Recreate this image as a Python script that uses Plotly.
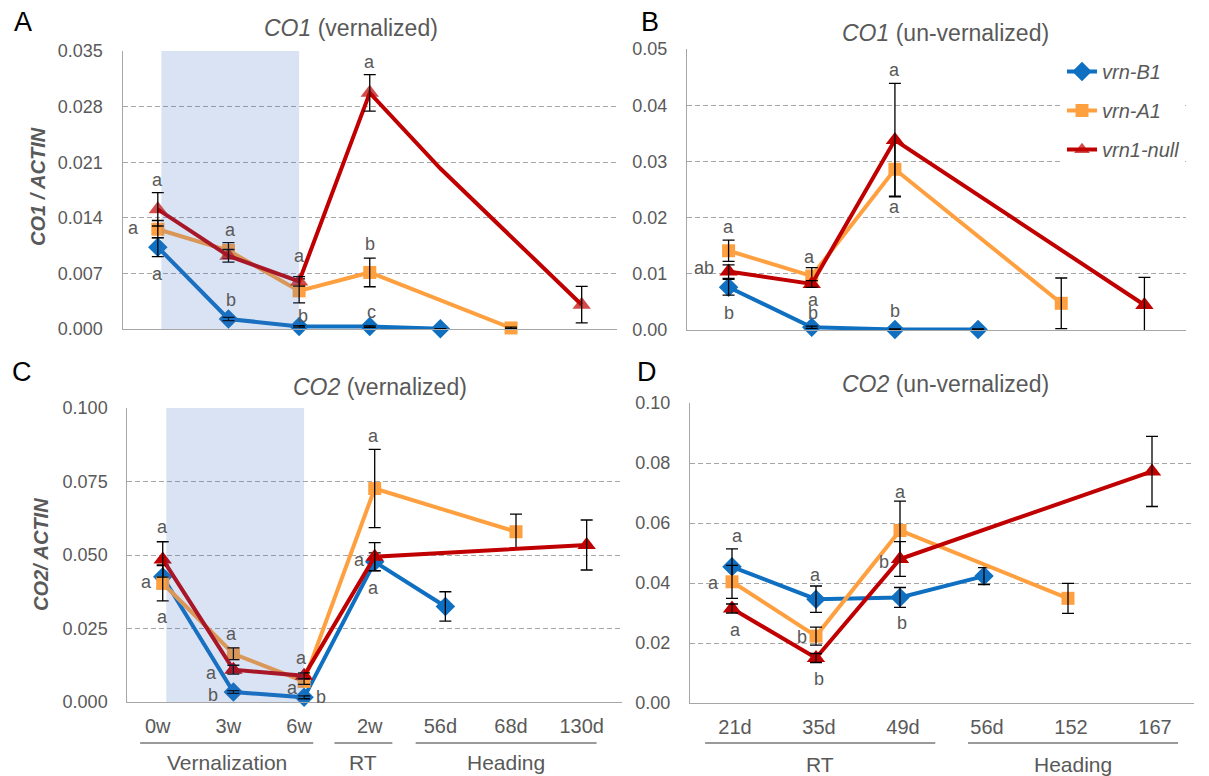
import plotly.graph_objects as go

# ---------------- data ----------------
cats_ver = ["0w", "3w", "6w", "2w", "56d", "68d", "130d"]
cats_unv = ["21d", "35d", "49d", "56d", "152", "167"]
series_names = ["vrn-B1", "vrn-A1", "vrn1-null"]

# A: CO1 (vernalized)
co1_ver_b1 = [0.0103, 0.00126, 0.00033, 0.0003, 0.00004, None, None]
co1_ver_b1_err = [0.0012, 0.0002, 0.0001, 0.0001, 0.0, None, None]
co1_ver_a1 = [0.01256, 0.00988, 0.0048, 0.00712, None, 0.00013, None]
co1_ver_a1_err = [0.0011, 0.0010, 0.0015, 0.0018, None, 0.0001, None]
co1_ver_null = [0.01507, 0.00921, 0.00599, 0.02973, 0.0202, None, 0.00306]
co1_ver_null_err = [0.0021, 0.0008, 0.0006, 0.0023, None, None, 0.0023]
co1_ver_null_marker = [1, 1, 1, 1, 0, 1, 1]

# B: CO1 (un-vernalized)
co1_unv_b1 = [0.0076, 0.0005, 0.0001, 0.0001, None, None]
co1_unv_b1_err = [0.0014, 0.0002, 0.0001, 0.0001, None, None]
co1_unv_a1 = [0.0141, 0.0096, 0.0286, None, 0.00475, None]
co1_unv_a1_err = [0.0019, 0.0015, 0.0048, None, 0.0045, None]
co1_unv_null = [0.0104, 0.0082, 0.0338, None, None, 0.00445]
co1_unv_null_err = [0.0012, 0.0006, 0.0101, None, None, 0.0049]

# C: CO2 (vernalized)
co2_ver_b1 = [0.0426, 0.0034, 0.0016, 0.0477, 0.0325, None, None]
co2_ver_b1_err = [0.004, 0.0005, 0.0005, 0.003, 0.005, None, None]
co2_ver_a1 = [0.0404, 0.0164, 0.0070, 0.0726, None, 0.0579, None]
co2_ver_a1_err = [0.006, 0.002, 0.001, 0.0133, None, 0.006, None]
co2_ver_null = [0.0485, 0.0110, 0.0089, 0.0494, None, None, 0.0534]
co2_ver_null_err = [0.006, 0.0015, 0.001, 0.0048, None, None, 0.0085]

# D: CO2 (un-vernalized)
co2_unv_b1 = [0.0454, 0.0346, 0.0352, 0.0423, None, None]
co2_unv_b1_err = [0.006, 0.0044, 0.0033, 0.0028, None, None]
co2_unv_a1 = [0.0404, 0.0223, 0.0575, None, 0.0349, None]
co2_unv_a1_err = [0.0055, 0.003, 0.0098, None, 0.005, None]
co2_unv_null = [0.0315, 0.0150, 0.048, None, None, 0.0772]
co2_unv_null_err = [0.0015, 0.0015, 0.0058, None, None, 0.0117]

# y ticks
ticks_a = [0, 0.007, 0.014, 0.021, 0.028, 0.035]
ticks_b = [0, 0.01, 0.02, 0.03, 0.04, 0.05]
ticks_c = [0, 0.025, 0.05, 0.075, 0.1]
ticks_d = [0, 0.02, 0.04, 0.06, 0.08, 0.10]

# significance letters (category index, value, letter)
letters_a = [(0, 0.01876, "a"), (-0.34, 0.01268, "a"), (0, 0.00695, "a"),
             (1.03, 0.01248, "a"), (1.03, 0.0036, "b"), (2.0, 0.00913, "a"),
             (2.05, 0.00167, "b"), (3, 0.0336, "a"), (3, 0.01072, "b"),
             (3.02, 0.0021, "c")]
letters_b = [(0, 0.0184, "a"), (-0.29, 0.011, "ab"), (0.01, 0.003, "b"),
             (0.97, 0.01306, "a"), (1.02, 0.00534, "a"), (1.02, 0.003, "b"),
             (2, 0.0463, "a"), (2, 0.0219, "a"), (2, 0.00344, "b")]
letters_c = [(0, 0.0594, "a"), (-0.23, 0.0407, "a"), (0, 0.0288, "a"),
             (0.97, 0.0232, "a"), (0.69, 0.0098, "a"), (0.71, 0.0025, "b"),
             (1.97, 0.0149, "a"), (1.84, 0.0048, "a"), (2.24, 0.0016, "b"),
             (2.99, 0.0904, "a"), (2.78, 0.0483, "a"), (2.99, 0.0387, "a")]
letters_d = [(0.06, 0.0558, "a"), (-0.22, 0.0399, "a"), (0.04, 0.0243, "a"),
             (1, 0.0427, "a"), (0.83, 0.022, "b"), (1.03, 0.0081, "b"),
             (2.01, 0.0705, "a"), (1.81, 0.0471, "b"), (2.02, 0.0267, "b")]

groups_ver = ["Vernalization", "RT", "Heading"]
groups_unv = ["RT", "Heading"]

# ---------------- styling ----------------
W, H = 1209, 776
FONT = "Liberation Sans, Arial, Helvetica, sans-serif"
GRAY_TXT = "#595959"
GRID = "#a6a6a6"
colors = ["#0f6fc0", "#ffa040", "#c00000"]
symbols = ["diamond", "square", "triangle-up"]
msizes = [15, 13, 16]


def px_x(p):
    return p / W


def px_y(p):
    return 1 - p / H


panels = [
    dict(cats=cats_ver, vals=[co1_ver_b1, co1_ver_a1, co1_ver_null],
         errs=[co1_ver_b1_err, co1_ver_a1_err, co1_ver_null_err],
         xd=[122.5, 617], yd=[329, 51], yr=[0, 0.035], ticks=ticks_a, fmt=".3f",
         letters=letters_a, labels=False, shift=0),
    dict(cats=cats_unv, vals=[co1_unv_b1, co1_unv_a1, co1_unv_null],
         errs=[co1_unv_b1_err, co1_unv_a1_err, co1_unv_null_err],
         xd=[687, 1186], yd=[330, 49], yr=[0, 0.05], ticks=ticks_b, fmt=".2f",
         letters=letters_b, labels=False, shift=0),
    dict(cats=cats_ver, vals=[co2_ver_b1, co2_ver_a1, co2_ver_null],
         errs=[co2_ver_b1_err, co2_ver_a1_err, co2_ver_null_err],
         xd=[127.4, 622], yd=[702, 408], yr=[0, 0.1], ticks=ticks_c, fmt=".3f",
         letters=letters_c, labels=True, shift=-5),
    dict(cats=cats_unv, vals=[co2_unv_b1, co2_unv_a1, co2_unv_null],
         errs=[co2_unv_b1_err, co2_unv_a1_err, co2_unv_null_err],
         xd=[690, 1194], yd=[703, 403], yr=[0, 0.10], ticks=ticks_d, fmt=".2f",
         letters=letters_d, labels=True, shift=3),
]

fig = go.Figure()
layout = {}
annotations = []
shapes = []


def ann(x, y, text, xref="paper", yref="paper", size=18, color=GRAY_TXT, **kw):
    d = dict(x=x, y=y, xref=xref, yref=yref, text=text, showarrow=False,
             xanchor="center", yanchor="middle",
             font=dict(family=FONT, size=size, color=color))
    d.update(kw)
    return d


for i, p in enumerate(panels):
    n = i + 1
    xa = "x" if n == 1 else f"x{n}"
    ya = "y" if n == 1 else f"y{n}"
    xkey = "xaxis" if n == 1 else f"xaxis{n}"
    ykey = "yaxis" if n == 1 else f"yaxis{n}"
    for s in range(3):
        vals = p["vals"][s]
        errs = p["errs"][s]
        msize = msizes[s]
        if i == 0 and s == 2:
            msize = [msizes[s] * m for m in co1_ver_null_marker]
        # line + markers
        fig.add_trace(go.Scatter(
            x=p["cats"], y=vals, xaxis=xa, yaxis=ya,
            mode="lines+markers", connectgaps=True, cliponaxis=False,
            name=f"<i>{series_names[s]}</i>", legendgroup=series_names[s],
            showlegend=(i == 0), hoverinfo="skip",
            line=dict(color=colors[s], width=4),
            marker=dict(symbol=symbols[s], size=msize, color=colors[s], line=dict(width=0)),
        ))
        # error bars drawn on top of the markers of this series
        ev = [v if e is not None else None for v, e in zip(vals, errs)]
        fig.add_trace(go.Scatter(
            x=p["cats"], y=ev, xaxis=xa, yaxis=ya, mode="markers",
            cliponaxis=False, showlegend=False, hoverinfo="skip",
            marker=dict(size=2, opacity=0, color=colors[s]),
            error_y=dict(type="data", array=errs, visible=True,
                         color="black", thickness=1.3, width=6),
        ))
    layout[xkey] = dict(
        domain=[px_x(p["xd"][0]), px_x(p["xd"][1])], anchor=ya,
        type="category", categoryorder="array", categoryarray=p["cats"],
        range=[-0.5, len(p["cats"]) - 0.5], showgrid=False, zeroline=False,
        showline=True, linecolor=GRID, linewidth=1.3, ticks="", automargin=False,
        showticklabels=p["labels"], ticklabelstandoff=6, ticklabelshift=p["shift"],
        tickfont=dict(family=FONT, size=20, color=GRAY_TXT),
    )
    layout[ykey] = dict(
        domain=[px_y(p["yd"][0]), px_y(p["yd"][1])], anchor=xa,
        range=p["yr"], tickvals=p["ticks"], tickformat=p["fmt"],
        showgrid=True, gridcolor=GRID, gridwidth=1.3, griddash="5px,3px",
        zeroline=False, showline=True, linecolor=GRID, linewidth=1.3, ticks="",
        ticklabelstandoff=15, automargin=False,
        tickfont=dict(family=FONT, size=18, color=GRAY_TXT),
    )
    for (lx, ly, lt) in p["letters"]:
        annotations.append(ann(lx, ly, lt, xref=xa, yref=ya, size=18))

# vernalization shading (semi-transparent overlay) in panels A and C
for xa, ya in [("x", "y"), ("x3", "y3")]:
    shapes.append(dict(type="rect", xref=xa, yref=f"{ya} domain", x0=0.05, x1=2.0, y0=0, y1=1,
                       fillcolor="rgba(68,114,196,0.2)", line=dict(width=0), layer="above"))

# group lines and labels below C and D
grp_y_line = px_y(743)
for name, (a, b) in zip(groups_ver, [(-0.32, 2.13), (2.43, 3.25), (3.58, 6.14)]):
    shapes.append(dict(type="line", xref="x3", yref="paper", x0=a, x1=b,
                       y0=grp_y_line, y1=grp_y_line, line=dict(color="#9a9a9a", width=1.8)))
    annotations.append(ann((a + b) / 2, px_y(762), name, xref="x3", size=21))
for name, (a, b) in zip(groups_unv, [(-0.32, 2.42), (2.81, 5.31)]):
    shapes.append(dict(type="line", xref="x4", yref="paper", x0=a, x1=b,
                       y0=grp_y_line, y1=grp_y_line, line=dict(color="#9a9a9a", width=1.8)))
    annotations.append(ann((a + b) / 2, px_y(764), name, xref="x4", size=21))

# titles
titles = [("<i>CO1</i> (vernalized)", 351, 28), ("<i>CO1</i> (un-vernalized)", 945, 33),
          ("<i>CO2</i> (vernalized)", 380, 387), ("<i>CO2</i> (un-vernalized)", 945, 384)]
for t, tx, ty in titles:
    annotations.append(ann(px_x(tx), px_y(ty), t, size=23))

# panel letters
for t, tx, ty in [("A", 23, 22), ("B", 650, 22), ("C", 22, 372), ("D", 647, 372)]:
    annotations.append(ann(px_x(tx), px_y(ty), t, size=27, color="black"))

# y axis titles
for t, tx, ty in [("<b><i>CO1 / ACTIN</i></b>", 38, 187), ("<b><i>CO2/ ACTIN</i></b>", 41, 555)]:
    annotations.append(ann(px_x(tx), px_y(ty), t, size=20, textangle=-90))

fig.update_layout(
    width=W, height=H, margin=dict(l=0, r=0, t=0, b=0, pad=0, autoexpand=False),
    paper_bgcolor="white", plot_bgcolor="white",
    font=dict(family=FONT, color=GRAY_TXT),
    showlegend=True, hovermode=False,
    legend=dict(x=px_x(1062), y=px_y(52), xanchor="left", yanchor="top",
                bgcolor="white", font=dict(family=FONT, size=20, color=GRAY_TXT),
                tracegroupgap=10),
    annotations=annotations, shapes=shapes,
    **layout,
)

fig.write_html("out.html", config={"displayModeBar": False},
               post_script="document.body.style.margin='0px';")
